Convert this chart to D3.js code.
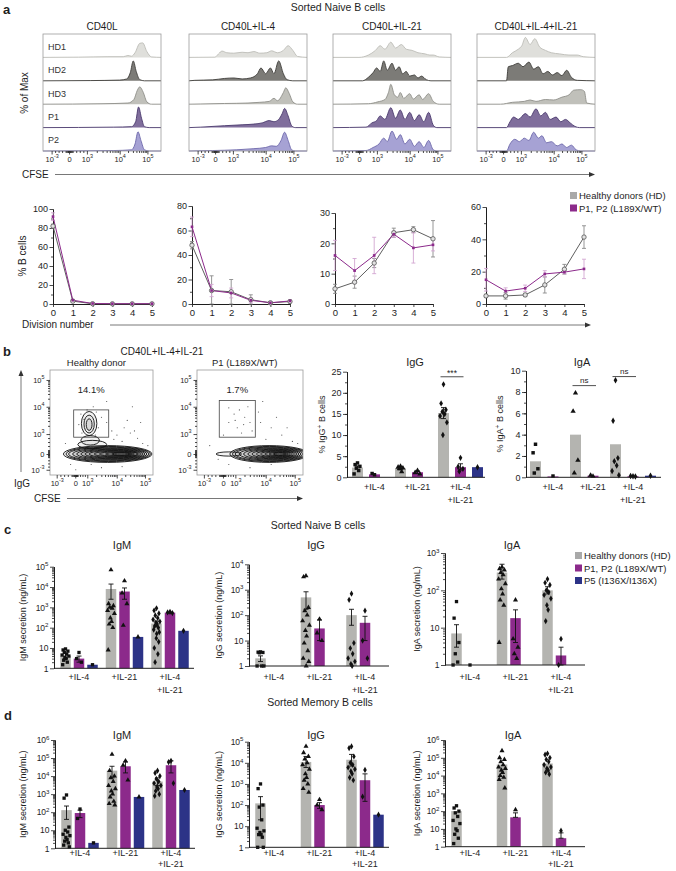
<!DOCTYPE html>
<html>
<head>
<meta charset="utf-8">
<script src="https://d3js.org/d3.v7.min.js"></script>
<style>
  body { margin: 0; background: #fff; }
  svg { font-family: "Liberation Sans", Arial, sans-serif; }
</style>
</head>
<body>
<svg id="fig" width="676" height="871"></svg>
<script>
// ---------- panel a : CFSE histograms, points are [x fraction of box, height fraction of row]
const histCols = ["CD40L", "CD40L+IL-4", "CD40L+IL-21", "CD40L+IL-4+IL-21"];
const histRows = ["HD1", "HD2", "HD3", "P1", "P2"];
const histCD40L = [
  [[0,0],[0.3,0.01],[0.55,0.03],[0.68,0.03],[0.72,0.08],[0.75,0.05],[0.78,0.2],[0.82,0.6],[0.845,0.62],[0.88,0.25],[0.92,0.02],[1,0]],
  [[0,0],[0.4,0.01],[0.65,0.03],[0.71,0.08],[0.74,0.35],[0.765,0.85],[0.79,0.4],[0.82,0.05],[0.86,0],[1,0]],
  [[0,0],[0.5,0.02],[0.72,0.05],[0.77,0.2],[0.8,0.6],[0.82,0.74],[0.85,0.5],[0.88,0.1],[0.92,0],[1,0]],
  [[0,0],[0.6,0.02],[0.75,0.04],[0.785,0.25],[0.81,0.88],[0.835,0.4],[0.86,0.04],[0.9,0],[1,0]],
  [[0,0],[0.6,0.02],[0.75,0.05],[0.78,0.3],[0.805,0.82],[0.83,0.45],[0.86,0.05],[0.9,0],[1,0]]
];
const histIL4 = [
  [[0,0],[0.22,0.01],[0.25,0.15],[0.28,0.27],[0.32,0.2],[0.38,0.18],[0.45,0.22],[0.5,0.2],[0.55,0.25],[0.6,0.18],[0.66,0.2],[0.7,0.28],[0.75,0.2],[0.8,0.3],[0.84,0.5],[0.88,0.3],[0.92,0.04],[1,0]],
  [[0,0],[0.05,0.02],[0.2,0.04],[0.3,0.1],[0.38,0.12],[0.45,0.08],[0.52,0.12],[0.58,0.3],[0.61,0.55],[0.65,0.3],[0.69,0.55],[0.72,0.3],[0.76,0.85],[0.8,0.3],[0.83,0.05],[0.88,0],[1,0]],
  [[0,0],[0.1,0.01],[0.3,0.03],[0.5,0.05],[0.6,0.08],[0.68,0.12],[0.72,0.25],[0.75,0.15],[0.8,0.5],[0.82,0.7],[0.85,0.45],[0.88,0.1],[0.92,0],[1,0]],
  [[0,0],[0.1,0.02],[0.3,0.08],[0.45,0.12],[0.55,0.15],[0.62,0.2],[0.68,0.3],[0.72,0.25],[0.76,0.35],[0.79,0.6],[0.81,0.82],[0.84,0.5],[0.87,0.08],[0.9,0],[1,0]],
  [[0,0],[0.2,0.02],[0.4,0.05],[0.55,0.1],[0.65,0.15],[0.7,0.22],[0.74,0.2],[0.78,0.45],[0.81,0.8],[0.84,0.45],[0.87,0.05],[0.9,0],[1,0]]
];
const histIL21 = [
  [[0,0],[0.22,0],[0.3,0.1],[0.36,0.3],[0.4,0.5],[0.44,0.35],[0.49,0.65],[0.53,0.4],[0.58,0.55],[0.62,0.35],[0.67,0.3],[0.72,0.2],[0.78,0.15],[0.82,0.1],[0.85,0.1],[0.9,0.02],[1,0]],
  [[0,0],[0.25,0],[0.3,0.15],[0.34,0.35],[0.37,0.55],[0.4,0.4],[0.43,0.85],[0.46,0.45],[0.5,0.75],[0.53,0.45],[0.56,0.6],[0.59,0.3],[0.62,0.4],[0.65,0.2],[0.69,0.25],[0.72,0.12],[0.75,0.2],[0.79,0.05],[0.83,0],[1,0]],
  [[0,0],[0.3,0.02],[0.38,0.1],[0.44,0.2],[0.47,0.5],[0.49,0.85],[0.52,0.4],[0.55,0.3],[0.57,0.5],[0.6,0.25],[0.65,0.45],[0.68,0.22],[0.73,0.4],[0.76,0.2],[0.81,0.45],[0.85,0.12],[0.9,0],[1,0]],
  [[0,0],[0.28,0.02],[0.33,0.2],[0.37,0.3],[0.4,0.5],[0.44,0.35],[0.49,0.85],[0.53,0.4],[0.57,0.75],[0.61,0.35],[0.65,0.65],[0.69,0.3],[0.73,0.55],[0.77,0.25],[0.81,0.65],[0.85,0.1],[0.88,0],[1,0]],
  [[0,0],[0.28,0.02],[0.34,0.15],[0.39,0.3],[0.43,0.55],[0.46,0.4],[0.5,0.85],[0.54,0.5],[0.57,0.7],[0.61,0.3],[0.65,0.5],[0.69,0.2],[0.73,0.4],[0.77,0.15],[0.81,0.45],[0.85,0.05],[0.88,0],[1,0]]
];
const histIL4IL21 = [
  [[0,0],[0.25,0],[0.3,0.2],[0.35,0.35],[0.38,0.5],[0.41,0.85],[0.45,0.55],[0.49,0.8],[0.53,0.45],[0.58,0.3],[0.63,0.2],[0.7,0.15],[0.78,0.1],[0.85,0.1],[0.9,0.03],[1,0]],
  [[0,0],[0.25,0],[0.265,0.6],[0.3,0.65],[0.35,0.75],[0.39,0.6],[0.44,0.8],[0.48,0.5],[0.52,0.6],[0.56,0.3],[0.6,0.4],[0.64,0.25],[0.68,0.35],[0.72,0.22],[0.76,0.45],[0.8,0.15],[0.85,0.02],[1,0]],
  [[0,0],[0.2,0],[0.3,0.08],[0.4,0.12],[0.45,0.18],[0.5,0.12],[0.58,0.2],[0.65,0.18],[0.72,0.3],[0.78,0.4],[0.82,0.6],[0.88,0.62],[0.91,0.55],[0.93,0.05],[1,0]],
  [[0,0],[0.25,0],[0.28,0.25],[0.31,0.45],[0.35,0.35],[0.41,0.6],[0.45,0.45],[0.5,0.8],[0.54,0.5],[0.58,0.65],[0.62,0.35],[0.67,0.45],[0.71,0.25],[0.75,0.35],[0.79,0.2],[0.83,0.05],[0.87,0],[1,0]],
  [[0,0],[0.25,0],[0.28,0.3],[0.32,0.5],[0.36,0.4],[0.4,0.55],[0.44,0.45],[0.48,0.8],[0.52,0.55],[0.55,0.65],[0.59,0.35],[0.63,0.4],[0.68,0.22],[0.72,0.3],[0.76,0.15],[0.8,0.25],[0.84,0.05],[0.88,0],[1,0]]
];
const cfseTicks = [-1000, 0, 1000, 10000, 100000];

// ---------- panel a : % B cells per division number
const divisions = [0, 1, 2, 3, 4, 5];
const divCD40L_HD = [82, 3, 0.3, 0.2, 0.2, 0.2];
const divCD40L_HDerr = [2, 1, 0.2, 0, 0, 0];
const divCD40L_P = [92, 4, 0.5, 0.3, 0.3, 0.3];
const divCD40L_Perr = [4, 1, 0.3, 0, 0, 0];
const divIL4_HD = [48, 11, 10, 3.5, 1, 2];
const divIL4_HDerr = [3, 12, 10, 4, 1, 1];
const divIL4_P = [63, 11, 9, 3, 1, 2.5];
const divIL4_Perr = [8, 5, 4, 2, 1, 1];
const divIL21_HD = [5, 7.2, 13.5, 23.5, 24.5, 21.5];
const divIL21_HDerr = [1.5, 2, 1.5, 1.5, 1, 6];
const divIL21_P = [16, 11, 16, 23, 18.5, 19.5];
const divIL21_Perr = [5, 4, 6, 1, 5, 2];
const divIL4IL21_HD = [5, 5, 5.6, 11.8, 21.5, 41.4];
const divIL4IL21_HDerr = [1, 2, 1, 5, 3, 7];
const divIL4IL21_P = [15, 8, 9.7, 18.6, 19.7, 21.7];
const divIL4IL21_Perr = [7, 2, 2, 2, 1, 6];

// ---------- panel b : flow plots, [cx, cy, rx, ry] and [x, y] as fractions of the plot box
const flowHD_contours = [
  [0.56,0.8,0.43,0.08],[0.565,0.8,0.41,0.072],[0.57,0.8,0.39,0.065],[0.58,0.8,0.36,0.058],[0.59,0.8,0.33,0.051],
  [0.6,0.8,0.3,0.045],[0.61,0.8,0.27,0.039],[0.62,0.8,0.24,0.033],[0.64,0.8,0.21,0.027],[0.65,0.8,0.17,0.021],
  [0.67,0.8,0.13,0.015],[0.69,0.8,0.09,0.009],
  [0.38,0.51,0.075,0.115],[0.38,0.515,0.05,0.085],[0.38,0.52,0.028,0.055],
  [0.39,0.67,0.09,0.045],[0.41,0.71,0.14,0.04]
];
const flowHD_dots = [[0.3,0.42],[0.33,0.47],[0.45,0.4],[0.47,0.55],[0.31,0.6],[0.44,0.62],[0.5,0.45],[0.28,0.52],[0.36,0.38],[0.42,0.35],
  [0.55,0.5],[0.6,0.58],[0.65,0.62],[0.72,0.55],[0.78,0.6],[0.85,0.65],[0.9,0.7],[0.7,0.68],[0.62,0.66],[0.82,0.58],
  [0.95,0.72],[0.75,0.48],[0.55,0.3],[0.88,0.5],[0.35,0.2],[0.2,0.9],[0.25,0.95],[0.5,0.93],[0.7,0.92],[0.4,0.9],[0.15,0.7],[0.8,0.35]];
const flowHD_gate = [0.23, 0.38, 0.57, 0.64];
const flowP1_contours = [
  [0.68,0.8,0.37,0.08],[0.685,0.8,0.35,0.072],[0.69,0.8,0.33,0.065],[0.7,0.8,0.3,0.058],[0.71,0.8,0.27,0.051],
  [0.72,0.8,0.24,0.045],[0.73,0.8,0.21,0.039],[0.74,0.8,0.18,0.033],[0.75,0.8,0.15,0.027],[0.76,0.8,0.12,0.021],
  [0.77,0.8,0.09,0.015],[0.78,0.8,0.06,0.009],[0.3,0.8,0.12,0.02]
];
const flowP1_dots = [[0.3,0.36],[0.35,0.42],[0.4,0.38],[0.45,0.45],[0.5,0.5],[0.38,0.55],[0.42,0.6],[0.3,0.5],[0.48,0.35],[0.52,0.58],
  [0.25,0.62],[0.44,0.52],[0.36,0.48],[0.6,0.5],[0.7,0.55],[0.8,0.62],[0.9,0.68],[0.75,0.45],[0.65,0.66],[0.85,0.55],
  [0.95,0.7],[0.58,0.4],[0.3,0.9],[0.5,0.93],[0.7,0.9],[0.2,0.85],[0.12,0.72],[0.62,0.3]];
const flowP1_gate = [0.21, 0.29, 0.55, 0.64];
const flowPct = ["14.1%", "1.7%"];

// ---------- panel b : % IgG+ / IgA+ B cells
const stimGroups = [["+IL-4"], ["+IL-21"], ["+IL-4", "+IL-21"]];
const bIgG_HD = [2.3, 2.1, 15.2];
const bIgG_HDerr = [[1.9, 2.7], [1.8, 2.4], [13.9, 16.5]];
const bIgG_HDpts = [[3.4, 3.0, 2.6, 2.2, 1.6, 0.8], [2.6, 2.4, 2.2, 2.0, 1.3], [22, 17.5, 16, 15.5, 15, 14.5, 13, 10]];
const bIgG_P = [0.7, 1.2, 2.4];
const bIgG_Perr = [null, [0.9, 1.5], [1.7, 3.2]];
const bIgG_Ppts = [[0.6, 0.9], [1.6, 1.1, 0.8], [4.6, 2.5, 2.0, 1.4]];
const bIgG_P5 = [null, null, 2.4];
const bIgG_P5pts = [[], [], [2.4]];
const bIgG_sig = [[2, "***", 23.8]];
const bIgA_HD = [1.5, 4.0, 3.1];
const bIgA_HDpts = [[3.1, 2.3, 0.8, 0.4], [7.9, 6.2, 1.6, 0.4], [9.1, 5.3, 1.8, 1.5, 1.1, 0.6, 0.2]];
const bIgA_P = [0.08, 0.15, 0.1];
const bIgA_Ppts = [[0.12], [0.1, 0.2], [0.1, 0.12, 0.08]];
const bIgA_P5 = [null, null, 0.15];
const bIgA_P5pts = [[], [], [0.15]];
const bIgA_sig = [[1, "ns", 8.6], [2, "ns", 9.45]];

// ---------- panel c : naive B cells, secretion (ng/mL)
const cIgM_HD = [4, 8000, 160];
const cIgM_HDerr = [[3, 5.5], [2500, 14000], [110, 210]];
const cIgM_HDpts = [[9, 8, 7, 6, 5, 4.5, 4, 3.5, 3, 2.5, 2, 1.5],
  [70000, 1500, 1200, 1000, 900, 700, 500, 300, 200, 150, 100, 8],
  [900, 700, 500, 400, 300, 250, 200, 180, 150, 120, 100, 80, 60, 50, 30, 20, 10, 5, 2]];
const cIgM_P = [3, 6000, 550];
const cIgM_Perr = [[2, 4], [2500, 9000], [520, 580]];
const cIgM_Ppts = [[6, 3, 2], [20000, 5000, 1500, 130], [600, 560, 520]];
const cIgM_P5 = [1.5, 35, 70];
const cIgM_P5pts = [[1.5], [35], [70]];

const cIgG_HD = [2, 500, 100];
const cIgG_HDerr = [[1.5, 2.5], [170, 830], [40, 170]];
const cIgG_HDpts = [[3.6, 3.5, 3.4, 3.3, 1, 1, 1],
  [3500, 3200, 200, 150, 100, 60, 40, 25, 15, 8, 4, 2, 1.5, 1],
  [700, 400, 8, 5, 3, 2, 1.5, 1.2, 1]];
const cIgG_P = [null, 30, 50];
const cIgG_Perr = [null, [10, 65], [10, 90]];
const cIgG_Ppts = [[], [70, 20, 10], [150, 10, 2]];

const cIgA_HD = [7, 300, 100];
const cIgA_HDerr = [[3, 12], [200, 500], [80, 125]];
const cIgA_HDpts = [[50, 18, 4, 2, 1.2, 1],
  [420, 380, 350, 300, 260, 200, 150, 110, 80, 55, 40, 4],
  [200, 160, 140, 100, 90, 75, 60, 40, 30, 15]];
const cIgA_P = [1, 18, 1.8];
const cIgA_Perr = [null, [4, 30], [1, 3]];
const cIgA_Ppts = [[1], [55, 5, 3, 2, 1.5], [5, 1]];

// ---------- panel d : memory B cells, secretion (ng/mL)
const dIgM_HD = [130, 20000, 5000];
const dIgM_HDerr = [[40, 220], [8000, 35000], [3000, 8000]];
const dIgM_HDpts = [[900, 600, 15, 10, 8, 6, 5, 4, 3, 2.5, 2, 1.5, 1.2],
  [160000, 20000, 10000, 8000, 5000, 3000, 2000, 1500, 1000, 700, 400, 300, 250],
  [20000, 15000, 10000, 7000, 5000, 4000, 3000, 2500, 2000, 1500, 1000, 800]];
const dIgM_P = [90, 35000, 40000];
const dIgM_Perr = [[50, 130], [15000, 60000], [15000, 70000]];
const dIgM_Ppts = [[150, 45], [70000, 40000, 6000], [70000, 60000, 4000]];
const dIgM_P5 = [2, 700, 1700];
const dIgM_P5pts = [[2], [700], [1700]];

const dIgG_HD = [120, 11000, 14000];
const dIgG_HDerr = [[20, 250], [6000, 20000], [7000, 25000]];
const dIgG_HDpts = [[1000, 600, 100, 80, 20, 8, 6, 5, 4, 4, 3, 1, 1],
  [60000, 30000, 20000, 15000, 10000, 8000, 5000, 3000, 2000, 1500, 1000, 600, 400],
  [60000, 50000, 20000, 10000, 8000, 6000, 5000, 4000, 3000, 2000, 1500]];
const dIgG_P = [null, 100, 1500];
const dIgG_Perr = [null, [70, 130], [150, 3000]];
const dIgG_Ppts = [[], [180, 100, 60], [4600, 250]];
const dIgG_P5 = [null, null, 35];
const dIgG_P5pts = [[], [], [35]];

const dIgA_HD = [100, 42000, 48000];
const dIgA_HDpts = [[200, 150, 100, 80, 50, 30, 20, 10, 8, 5, 3, 1.5],
  [250000, 100000, 80000, 60000, 40000, 30000, 25000, 20000, 15000, 10000, 8000, 6000, 2000],
  [175000, 150000, 100000, 80000, 60000, 40000, 30000, 25000, 20000, 15000, 12000]];
const dIgA_P = [null, 45, 3];
const dIgA_Perr = [null, [45, 80], [3, 6]];
const dIgA_Ppts = [[], [120], [8]];

const legendNames = ["Healthy donors (HD)", "P1, P2 (L189X/WT)", "P5 (I136X/I136X)"];

// ======================================================================
const svg = d3.select("#fig");
svg.append("rect").attr("width", 676).attr("height", 871).attr("fill", "#fff");

const INK = "#1e1e1e";
const C_HD = "#b4b4b0", C_P = "#8c2a8b", C_P5 = "#2c3387";
const symbols = [d3.symbolSquare, d3.symbolTriangle, d3.symbolDiamond];
const JIT = [0, -0.6, 0.6, -0.3, 0.3, -0.85, 0.85, -0.15, 0.15, -0.45, 0.45, -0.7, 0.7, 0.05, -0.05, 0.55, -0.55, 0.35, -0.35, 0.8];

function label(x, y, s, size, opt) {
  opt = opt || {};
  const t = svg.append("text").attr("x", x).attr("y", y)
    .attr("font-size", size).attr("fill", opt.fill || INK)
    .attr("text-anchor", opt.anchor || "middle").text(s);
  if (opt.bold) t.attr("font-weight", "bold");
  if (opt.rot) t.attr("transform", `rotate(-90,${x},${y})`);
  return t;
}

function sup(t, base, exp) {
  t.text(base);
  if (exp) t.append("tspan").attr("dy", -3.5).attr("font-size", "0.72em").text(exp);
}

function powLabel(v) {
  if (v === 0) return ["0", ""];
  const e = Math.round(Math.log10(Math.abs(v)));
  if (v > 0 && e === 0) return ["1", ""];
  if (v > 0 && e === 1) return ["10", ""];
  return ["10", (v < 0 ? "-" : "") + e];
}

function callAxis(parent, axis, fs) {
  const g = parent.append("g").call(axis);
  g.attr("font-size", fs).attr("font-family", null).style("color", INK);
  g.selectAll(".tick line").attr("stroke-width", 0.8);
  g.selectAll(".domain").attr("stroke-width", 1);
  return g;
}

function arrowHead(x, y, dir) {
  const p = dir === "up" ? `M${x - 2.5},${y + 6}L${x},${y}L${x + 2.5},${y + 6}Z`
                         : `M${x - 6},${y - 2.5}L${x},${y}L${x - 6},${y + 2.5}Z`;
  svg.append("path").attr("d", p).attr("fill", "#333");
}

// CFSE-type biexponential axis: linear around zero, log above 10^3
function cfseAxis(orient, ox, oy, len, fr, fs) {
  const pos = fr.map(f => f * len);
  const lin = d3.scaleLinear().domain(cfseTicks).range(pos);
  const lg = d3.scaleLog().domain(cfseTicks.slice(2)).range(pos.slice(2));
  const mk = orient === "bottom" ? d3.axisBottom : d3.axisLeft;
  const g = svg.append("g").attr("transform", `translate(${ox},${oy})`);
  const logMinor = [];
  [1e3, 1e4].forEach(m => { for (let k = 2; k < 10; k++) logMinor.push(k * m); });
  const linMinor = [-800, -600, -400, -200, -150, -100, -60, -30, 30, 60, 100, 150, 200, 400, 600, 800];
  callAxis(g, mk(lg).tickValues(logMinor).tickSize(2).tickSizeOuter(0).tickFormat(""), fs);
  callAxis(g, mk(lin).tickValues(linMinor).tickSize(2).tickSizeOuter(0).tickFormat(""), fs);
  const gm = callAxis(g, mk(lin).tickValues(cfseTicks).tickSize(3.5).tickSizeOuter(0).tickPadding(2).tickFormat(() => ""), fs);
  gm.selectAll(".tick text").each(function (d) { const p = powLabel(d); sup(d3.select(this), p[0], p[1]); });
  g.selectAll(".domain").remove();
  return g;
}

// ---------------- panel a ----------------
label(3, 14, "a", 13, { anchor: "start", bold: true });
label(338, 11, "Sorted Naive B cells", 10.5);
const histData = [histCD40L, histIL4, histIL21, histIL4IL21];
const histFill = ["#dfdfdb", "#7c7b77", "#c0c0ba", "#806e9c", "#a6a2d4"];
const histEdge = ["#bcbcb7", "#3e3d3a", "#8e8e89", "#48386c", "#6d68aa"];
const hx0 = [43, 189, 333, 477], hW = 118, hTop = 34, hRow = 23.4;
histData.forEach((rows, c) => {
  const x = d3.scaleLinear().domain([0, 1]).range([hx0[c], hx0[c] + hW]);
  label(hx0[c] + hW / 2, 30, histCols[c], 10);
  rows.forEach((pts, r) => {
    const yb = hTop + (r + 1) * hRow;
    const y = d3.scaleLinear().domain([0, 1]).range([yb, yb - hRow]);
    svg.append("path").datum(pts).attr("fill", histFill[r])
      .attr("d", d3.area().x(d => x(d[0])).y0(yb).y1(d => y(d[1])).curve(d3.curveMonotoneX));
    svg.append("path").datum(pts).attr("fill", "none").attr("stroke", histEdge[r]).attr("stroke-width", 0.9)
      .attr("d", d3.line().x(d => x(d[0])).y(d => y(d[1])).curve(d3.curveMonotoneX));
    if (c === 0) label(hx0[c] + 5, yb - hRow / 2 + 4, histRows[r], 9, { anchor: "start", fill: "#333" });
  });
  svg.append("rect").attr("x", hx0[c]).attr("y", hTop).attr("width", hW).attr("height", 5 * hRow)
    .attr("fill", "none").attr("stroke", "#9c9c9c").attr("stroke-width", 0.8);
  cfseAxis("bottom", hx0[c], hTop + 5 * hRow, hW, [0.073, 0.221, 0.372, 0.65, 0.885], 7.5);
});
label(28, 93, "% of Max", 10, { rot: true });
label(22, 178, "CFSE", 10, { anchor: "start" });
svg.append("line").attr("x1", 55).attr("x2", 590).attr("y1", 174.5).attr("y2", 174.5).attr("stroke", "#555").attr("stroke-width", 0.8);
arrowHead(595, 174.5, "right");

// division charts
const lineY0 = 304;
const lineCfg = [
  { x0: 53, x1: 152, yt: 209, max: 100, step: 20, HD: divCD40L_HD, HDe: divCD40L_HDerr, P: divCD40L_P, Pe: divCD40L_Perr },
  { x0: 192, x1: 290, yt: 206, max: 80, step: 20, HD: divIL4_HD, HDe: divIL4_HDerr, P: divIL4_P, Pe: divIL4_Perr },
  { x0: 335, x1: 433, yt: 213, max: 30, step: 10, HD: divIL21_HD, HDe: divIL21_HDerr, P: divIL21_P, Pe: divIL21_Perr },
  { x0: 486, x1: 584, yt: 207, max: 60, step: 20, HD: divIL4IL21_HD, HDe: divIL4IL21_HDerr, P: divIL4IL21_P, Pe: divIL4IL21_Perr }
];
lineCfg.forEach(o => {
  const x = d3.scaleLinear().domain([0, 5]).range([o.x0, o.x1]);
  const y = d3.scaleLinear().domain([0, o.max]).range([lineY0, o.yt]);
  const ga = svg.append("g").attr("transform", `translate(${o.x0},0)`);
  callAxis(ga, d3.axisLeft(y).tickValues(d3.range(o.step / 2, o.max, o.step)).tickSize(2).tickSizeOuter(0).tickFormat(""), 9);
  callAxis(ga, d3.axisLeft(y).tickValues(d3.range(0, o.max + 1, o.step)).tickSize(3.5).tickSizeOuter(0).tickPadding(1.5), 9);
  callAxis(svg.append("g").attr("transform", `translate(0,${lineY0})`),
    d3.axisBottom(x).tickValues(divisions).tickSize(3).tickSizeOuter(0).tickPadding(2).tickFormat(d3.format("d")), 9.5);
  const series = [
    { v: o.HD, e: o.HDe, line: "#5f5f5f", err: "#8a8a8a" },
    { v: o.P, e: o.Pe, line: C_P, err: "#d2a6d1" }
  ];
  series.forEach(s => {
    s.v.forEach((v, i) => {
      if (!s.e[i]) return;
      const lo = y(Math.max(0, v - s.e[i])), hi = y(Math.min(o.max, v + s.e[i])), cx = x(divisions[i]);
      svg.append("path").attr("d", `M${cx},${lo}V${hi}M${cx - 2},${lo}H${cx + 2}M${cx - 2},${hi}H${cx + 2}`)
        .attr("stroke", s.err).attr("stroke-width", 0.9).attr("fill", "none");
    });
  });
  series.forEach(s => {
    svg.append("path").datum(s.v).attr("fill", "none").attr("stroke", s.line).attr("stroke-width", 1)
      .attr("d", d3.line().x((d, i) => x(divisions[i])).y(d => y(d)));
  });
  svg.selectAll(null).data(o.HD).join("circle").attr("cx", (d, i) => x(divisions[i])).attr("cy", d => y(d))
    .attr("r", 2.2).attr("fill", "#e2e2e2").attr("stroke", "#555").attr("stroke-width", 0.8);
  svg.selectAll(null).data(o.P).join("path")
    .attr("transform", (d, i) => `translate(${x(divisions[i])},${y(d)})`)
    .attr("d", d3.symbol(d3.symbolSquare, 7)).attr("fill", C_P);
});
label(26, 256, "% B cells", 10, { rot: true });
label(22, 328, "Division number", 10, { anchor: "start" });
svg.append("line").attr("x1", 110).attr("x2", 586).attr("y1", 325).attr("y2", 325).attr("stroke", "#555").attr("stroke-width", 0.8);
arrowHead(591, 325, "right");
[[C_HD, legendNames[0]], [C_P, legendNames[1]]].forEach((d, i) => {
  svg.append("rect").attr("x", 570).attr("y", 192 + i * 12.5).attr("width", 7).attr("height", 7).attr("fill", i ? C_P : "#a9a9a9");
  label(579, 199 + i * 12.5, d[1], 9.5, { anchor: "start" });
});

// ---------------- panel b ----------------
label(3, 356, "b", 13, { anchor: "start", bold: true });
label(162, 355, "CD40L+IL-4+IL-21", 10);
const flowBoxes = [
  { x: 50, y: 370, w: 103, h: 105, title: "Healthy donor", cont: flowHD_contours, dots: flowHD_dots, gate: flowHD_gate },
  { x: 197, y: 370, w: 106, h: 105, title: "P1 (L189X/WT)", cont: flowP1_contours, dots: flowP1_dots, gate: flowP1_gate }
];
flowBoxes.forEach((b, k) => {
  const fx = d3.scaleLinear().domain([0, 1]).range([b.x, b.x + b.w]);
  const fy = d3.scaleLinear().domain([0, 1]).range([b.y, b.y + b.h]);
  label(b.x + b.w * 0.45, 366, b.title, 9.5);
  svg.append("clipPath").attr("id", "fc" + k).append("rect")
    .attr("x", b.x).attr("y", b.y).attr("width", b.w).attr("height", b.h);
  const g = svg.append("g").attr("clip-path", `url(#fc${k})`);
  g.selectAll(null).data(b.dots).join("circle").attr("cx", d => fx(d[0])).attr("cy", d => fy(d[1]))
    .attr("r", 0.6).attr("fill", "#555");
  g.selectAll(null).data(b.cont).join("ellipse")
    .attr("cx", d => fx(d[0])).attr("cy", d => fy(d[1]))
    .attr("rx", d => d[2] * b.w).attr("ry", d => d[3] * b.h)
    .attr("fill", "#000").attr("fill-opacity", 0.05)
    .attr("stroke", "#111").attr("stroke-width", 0.9);
  svg.append("rect").attr("x", b.x).attr("y", b.y).attr("width", b.w).attr("height", b.h)
    .attr("fill", "none").attr("stroke", "#9c9c9c").attr("stroke-width", 0.8);
  svg.append("rect").attr("x", fx(b.gate[0])).attr("y", fy(b.gate[1]))
    .attr("width", fx(b.gate[2]) - fx(b.gate[0])).attr("height", fy(b.gate[3]) - fy(b.gate[1]))
    .attr("fill", "none").attr("stroke", "#444").attr("stroke-width", 0.8);
  label(fx((b.gate[0] + b.gate[2]) / 2), 393, flowPct[k], 9.5);
  cfseAxis("bottom", b.x, b.y + b.h, b.w, [0.065, 0.245, 0.362, 0.648, 0.922], 7.5);
  cfseAxis("left", b.x, b.y, b.h, [0.95, 0.8, 0.61, 0.35, 0.095], 7.5);
});
svg.append("line").attr("x1", 21).attr("x2", 21).attr("y1", 472).attr("y2", 376).attr("stroke", "#555").attr("stroke-width", 0.8);
arrowHead(21, 370, "up");
label(22, 487, "IgG", 10);
label(34, 502, "CFSE", 10, { anchor: "start" });
svg.append("line").attr("x1", 67).attr("x2", 298).attr("y1", 498.5).attr("y2", 498.5).attr("stroke", "#555").attr("stroke-width", 0.8);
arrowHead(303, 498.5, "right");

// generic bar + dot chart
function barChart(o) {
  const base = o.log ? 1 : 0;
  const y = o.log ? d3.scaleLog().domain([1, o.max]).range([o.yb, o.yt])
                  : d3.scaleLinear().domain([0, o.max]).range([o.yb, o.yt]);
  const gx = d3.scalePoint().domain([0, 1, 2]).range([o.x0 + o.g0, o.x0 + o.g0 + 2 * o.gs]);
  const sx = d3.scalePoint().domain(["HD", "P", "P5"]).range([-o.ss, o.ss]);
  const series = [
    { k: "HD", v: o.HD, e: o.HDerr, p: o.HDpts, c: C_HD },
    { k: "P", v: o.P, e: o.Perr, p: o.Ppts, c: C_P },
    { k: "P5", v: o.P5, e: null, p: o.P5pts, c: C_P5 }
  ];
  series.forEach(s => {
    if (!s.v) return;
    s.v.forEach((v, i) => {
      if (v == null) return;
      const cx = gx(i) + sx(s.k), top = y(Math.max(v, base));
      svg.append("rect").attr("x", cx - o.bw / 2).attr("width", o.bw)
        .attr("y", top).attr("height", y(base) - top).attr("fill", s.c);
    });
  });
  series.forEach(s => {
    if (!s.e) return;
    s.e.forEach((e, i) => {
      if (!e) return;
      const cx = gx(i) + sx(s.k), lo = y(Math.max(e[0], base)), hi = y(e[1]);
      svg.append("path").attr("d", `M${cx},${lo}V${hi}M${cx - 2.5},${lo}H${cx + 2.5}M${cx - 2.5},${hi}H${cx + 2.5}`)
        .attr("stroke", "#111").attr("stroke-width", 0.9).attr("fill", "none");
    });
  });
  series.forEach(s => {
    if (!s.p) return;
    s.p.forEach((pts, i) => {
      const cx = gx(i) + sx(s.k);
      svg.selectAll(null).data(pts).join("path")
        .attr("transform", (d, j) => `translate(${cx + JIT[j % JIT.length] * o.jit},${y(Math.max(d, base))})`)
        .attr("d", d3.symbol(symbols[i], o.sym)).attr("fill", "#111");
    });
  });
  // axes
  const ga = svg.append("g").attr("transform", `translate(${o.x0},0)`);
  if (o.log) {
    const majors = d3.range(0, Math.round(Math.log10(o.max)) + 1).map(e => Math.pow(10, e));
    const minors = [];
    majors.slice(0, -1).forEach(m => { for (let k = 2; k < 10; k++) minors.push(k * m); });
    callAxis(ga, d3.axisLeft(y).tickValues(minors).tickSize(2).tickSizeOuter(0).tickFormat(""), 8.5);
    const gm = callAxis(ga, d3.axisLeft(y).tickValues(majors).tickSize(4).tickSizeOuter(0).tickPadding(1.5).tickFormat(() => ""), 8.5);
    gm.selectAll(".tick text").each(function (d) { const p = powLabel(d); sup(d3.select(this), p[0], p[1]); });
  } else {
    callAxis(ga, d3.axisLeft(y).tickValues(d3.range(o.minor, o.max, o.minor)).tickSize(2).tickSizeOuter(0).tickFormat(""), 9);
    callAxis(ga, d3.axisLeft(y).tickValues(d3.range(0, o.max + 0.01, o.step)).tickSize(4).tickSizeOuter(0).tickPadding(1.5), 9);
  }
  svg.append("line").attr("x1", o.x0).attr("x2", o.x0 + o.len).attr("y1", o.yb).attr("y2", o.yb)
    .attr("stroke", INK).attr("stroke-width", 1);
  stimGroups.forEach((lines, i) => {
    lines.forEach((s, j) => label(gx(i), o.labY + j * o.labGap, s, 9));
  });
  label(o.titleX, o.titleY, o.title, 11);
  const yl = svg.append("text").attr("x", o.ylabX).attr("y", (o.yb + o.yt) / 2).attr("font-size", 9)
    .attr("fill", INK).attr("text-anchor", "middle")
    .attr("transform", `rotate(-90,${o.ylabX},${(o.yb + o.yt) / 2})`);
  yl.append("tspan").text(o.ylab[0]);
  if (o.ylab.length > 1) {
    yl.append("tspan").attr("dy", -3).attr("font-size", 6.5).text(o.ylab[1]);
    yl.append("tspan").attr("dy", 3).text(o.ylab[2]);
  }
  (o.sig || []).forEach(sg => {
    const a = gx(sg[0]) + sx("HD") - 3, b = gx(sg[0]) + sx("P") + 3, yy = y(sg[2]);
    svg.append("line").attr("x1", a).attr("x2", b).attr("y1", yy).attr("y2", yy).attr("stroke", "#222").attr("stroke-width", 0.8);
    label((a + b) / 2, yy - (sg[1] === "ns" ? 2.5 : 1), sg[1], sg[1] === "ns" ? 8 : 8.5);
  });
}

barChart({ x0: 347, len: 138, yb: 477.3, yt: 371.7, max: 25, step: 5, minor: 2.5, g0: 27.5, gs: 43, ss: 17, bw: 11, jit: 4, sym: 12,
  HD: bIgG_HD, HDerr: bIgG_HDerr, HDpts: bIgG_HDpts, P: bIgG_P, Perr: bIgG_Perr, Ppts: bIgG_Ppts, P5: bIgG_P5, P5pts: bIgG_P5pts,
  sig: bIgG_sig, title: "IgG", titleX: 415, titleY: 366, labY: 490, labGap: 12.5, ylab: ["% IgG", "+", " B cells"], ylabX: 325 });
barChart({ x0: 526, len: 135, yb: 477.3, yt: 370.7, max: 10, step: 2, minor: 1, g0: 27, gs: 40, ss: 17.5, bw: 11, jit: 4, sym: 12,
  HD: bIgA_HD, HDerr: null, HDpts: bIgA_HDpts, P: bIgA_P, Perr: null, Ppts: bIgA_Ppts, P5: bIgA_P5, P5pts: bIgA_P5pts,
  sig: bIgA_sig, title: "IgA", titleX: 582, titleY: 366, labY: 490, labGap: 12.5, ylab: ["% IgA", "+", " B cells"], ylabX: 503 });

// ---------------- panel c ----------------
label(4, 534, "c", 13, { anchor: "start", bold: true });
label(318, 529, "Sorted Naive B cells", 10.5);
const cdCommon = { log: true, len: 140, g0: 25, gs: 45.5, ss: 13.5, bw: 10.5, jit: 4, sym: 11 };
barChart(Object.assign({}, cdCommon, { x0: 54, yb: 668.3, yt: 566.7, max: 1e5,
  HD: cIgM_HD, HDerr: cIgM_HDerr, HDpts: cIgM_HDpts, P: cIgM_P, Perr: cIgM_Perr, Ppts: cIgM_Ppts, P5: cIgM_P5, P5pts: cIgM_P5pts,
  title: "IgM", titleX: 122, titleY: 549, labY: 680, labGap: 12.5, ylab: ["IgM secretion (ng/mL)"], ylabX: 26 }));
barChart(Object.assign({}, cdCommon, { x0: 249, yb: 666, yt: 564.3, max: 1e4,
  HD: cIgG_HD, HDerr: cIgG_HDerr, HDpts: cIgG_HDpts, P: cIgG_P, Perr: cIgG_Perr, Ppts: cIgG_Ppts, P5: null, P5pts: null,
  title: "IgG", titleX: 316, titleY: 549, labY: 680, labGap: 12.5, ylab: ["IgG secretion (ng/mL)"], ylabX: 222 }));
barChart(Object.assign({}, cdCommon, { x0: 445, yb: 665, yt: 553, max: 1e3,
  HD: cIgA_HD, HDerr: cIgA_HDerr, HDpts: cIgA_HDpts, P: cIgA_P, Perr: cIgA_Perr, Ppts: cIgA_Ppts, P5: null, P5pts: null,
  title: "IgA", titleX: 512, titleY: 549, labY: 680, labGap: 12.5, ylab: ["IgA secretion (ng/mL)"], ylabX: 420 }));
[C_HD, C_P, C_P5].forEach((c, i) => {
  svg.append("rect").attr("x", 575).attr("y", 552 + i * 12.5).attr("width", 7).attr("height", 7).attr("fill", i ? c : "#a9a9a9");
  label(584, 559 + i * 12.5, legendNames[i], 9.5, { anchor: "start" });
});

// ---------------- panel d ----------------
label(4, 720, "d", 13, { anchor: "start", bold: true });
label(320, 706, "Sorted Memory B cells", 10.5);
barChart(Object.assign({}, cdCommon, { x0: 55, yb: 848.3, yt: 740, max: 1e6,
  HD: dIgM_HD, HDerr: dIgM_HDerr, HDpts: dIgM_HDpts, P: dIgM_P, Perr: dIgM_Perr, Ppts: dIgM_Ppts, P5: dIgM_P5, P5pts: dIgM_P5pts,
  title: "IgM", titleX: 122, titleY: 739, labY: 856, labGap: 11, ylab: ["IgM secretion (ng/mL)"], ylabX: 26 }));
barChart(Object.assign({}, cdCommon, { x0: 249, yb: 847.3, yt: 741.7, max: 1e5,
  HD: dIgG_HD, HDerr: dIgG_HDerr, HDpts: dIgG_HDpts, P: dIgG_P, Perr: dIgG_Perr, Ppts: dIgG_Ppts, P5: dIgG_P5, P5pts: dIgG_P5pts,
  title: "IgG", titleX: 316, titleY: 739, labY: 856, labGap: 11, ylab: ["IgG secretion (ng/mL)"], ylabX: 222 }));
barChart(Object.assign({}, cdCommon, { x0: 445, yb: 846.7, yt: 740, max: 1e6,
  HD: dIgA_HD, HDerr: null, HDpts: dIgA_HDpts, P: dIgA_P, Perr: dIgA_Perr, Ppts: dIgA_Ppts, P5: null, P5pts: null,
  title: "IgA", titleX: 513, titleY: 739, labY: 856, labGap: 11, ylab: ["IgA secretion (ng/mL)"], ylabX: 420 }));
</script>
</body>
</html>
